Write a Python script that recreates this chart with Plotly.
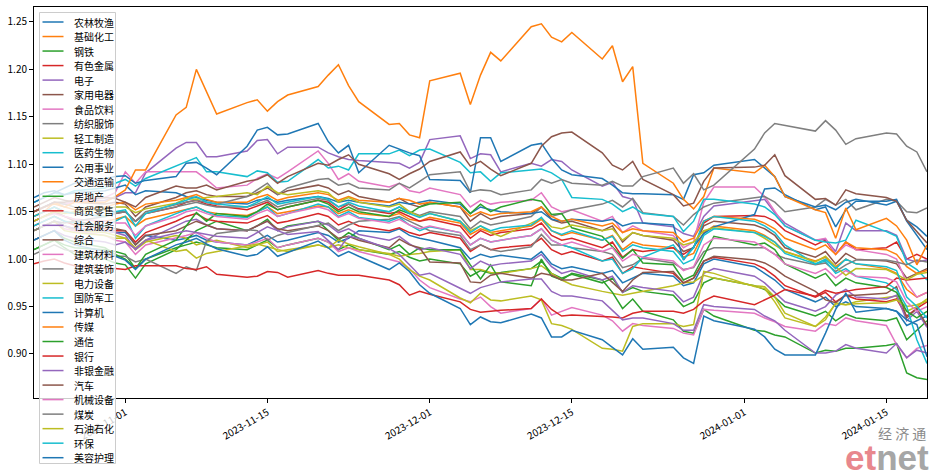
import plotly.graph_objects as go

dates = ["2023-10-23","2023-10-24","2023-10-25","2023-10-26","2023-10-27","2023-10-30","2023-10-31",
         "2023-11-01","2023-11-02","2023-11-03","2023-11-06","2023-11-07","2023-11-08","2023-11-09","2023-11-10",
         "2023-11-13","2023-11-14","2023-11-15","2023-11-16","2023-11-17",
         "2023-11-20","2023-11-21","2023-11-22","2023-11-23","2023-11-24",
         "2023-11-27","2023-11-28","2023-11-29","2023-11-30","2023-12-01",
         "2023-12-04","2023-12-05","2023-12-06","2023-12-07","2023-12-08",
         "2023-12-11","2023-12-12","2023-12-13","2023-12-14","2023-12-15",
         "2023-12-18","2023-12-19","2023-12-20","2023-12-21","2023-12-22",
         "2023-12-25","2023-12-26","2023-12-27","2023-12-28","2023-12-29",
         "2024-01-02","2024-01-03","2024-01-04","2024-01-05",
         "2024-01-08","2024-01-09","2024-01-10","2024-01-11","2024-01-12",
         "2024-01-15","2024-01-16","2024-01-17","2024-01-18","2024-01-19"]

names = ["农林牧渔","基础化工","钢铁","有色金属","电子","家用电器","食品饮料","纺织服饰","轻工制造","医药生物",
         "公用事业","交通运输","房地产","商贸零售","社会服务","综合","建筑材料","建筑装饰","电力设备","国防军工",
         "计算机","传媒","通信","银行","非银金融","汽车","机械设备","煤炭","石油石化","环保","美容护理"]

nonglin = [1.030,1.035,1.040,1.035,1.032,1.030,1.028, 1.028,1.015,1.025,1.020,1.022,1.025,1.020,1.018,
           1.015,1.020,1.025,1.018,1.020, 1.028,1.025,1.018,1.022,1.030, 1.028,1.032,1.025,1.022,1.020,
           1.012,1.000,1.005,1.002,1.004, 1.000,1.008,0.995,0.990,0.992, 0.985,0.988,0.975,0.980,0.985,
           0.982,0.972,0.975,0.995,1.000, 0.992,0.985,0.978,0.968, 0.955,0.960,0.950,0.955,0.950,
           0.948,0.945,0.930,0.935,0.940]
jichuhuagong = [1.040,1.045,1.050,1.045,1.042,1.040,1.042, 1.045,1.035,1.042,1.050,1.052,1.055,1.050,1.048,
                1.046,1.050,1.055,1.048,1.050, 1.056,1.055,1.048,1.052,1.048, 1.045,1.048,1.042,1.040,1.044,
                1.038,1.026,1.032,1.028,1.030, 1.035,1.042,1.030,1.025,1.028, 1.020,1.025,1.010,1.018,1.015,
                1.012,1.002,1.006,1.028,1.035, 1.030,1.025,1.018,1.008, 0.998,1.002,0.992,1.000,0.995,
                0.990,0.985,0.968,0.960,0.965]
gangtie = [1.010,1.015,1.020,1.015,1.012,1.010,1.008, 1.005,0.990,1.000,1.012,1.015,1.018,1.015,1.012,
           1.010,1.015,1.020,1.012,1.015, 1.022,1.018,1.010,1.015,1.010, 1.005,1.008,1.002,0.998,1.000,
           0.995,0.982,0.988,0.985,0.986, 0.990,0.998,0.985,0.980,0.984, 0.975,0.980,0.965,0.970,0.966,
           0.962,0.950,0.955,0.975,0.980, 0.972,0.968,0.960,0.950, 0.940,0.945,0.935,0.942,0.938,
           0.935,0.938,0.915,0.925,0.935]
yousejinshu = [1.045,1.050,1.055,1.050,1.048,1.045,1.048, 1.050,1.040,1.048,1.055,1.060,1.062,1.058,1.056,
               1.052,1.056,1.060,1.052,1.055, 1.062,1.060,1.052,1.058,1.053, 1.048,1.050,1.045,1.040,1.042,
               1.035,1.022,1.030,1.025,1.028, 1.032,1.038,1.025,1.020,1.022, 1.012,1.018,1.002,1.010,1.008,
               1.012,1.005,1.012,1.038,1.045, 1.046,1.045,1.040,1.030, 1.015,1.020,1.005,1.018,1.010,
               1.012,1.018,1.000,1.005,1.000]
dianzi = [1.050,1.055,1.060,1.058,1.060,1.062,1.065, 1.070,1.070,1.091,1.117,1.123,1.123,1.108,1.108,
          1.114,1.125,1.126,1.111,1.118, 1.118,1.112,1.108,1.105,1.104, 1.102,1.101,1.096,1.102,1.126,
          1.130,1.106,1.111,1.110,1.092, 1.101,1.098,1.105,1.103,1.094, 1.077,1.081,1.066,1.063,1.038,
          1.034,1.027,1.024,1.045,1.056, 1.061,1.063,1.049,1.038, 1.020,1.021,1.008,1.038,1.030,
          1.030,1.025,1.000,0.997,0.999]
jiayongdianqi = [1.055,1.060,1.065,1.062,1.060,1.058,1.060, 1.058,1.045,1.055,1.065,1.070,1.072,1.068,1.066,
                 1.066,1.070,1.075,1.068,1.072, 1.078,1.075,1.068,1.072,1.066, 1.060,1.064,1.058,1.055,1.060,
                 1.055,1.040,1.048,1.042,1.045, 1.048,1.055,1.042,1.038,1.040, 1.030,1.035,1.018,1.028,1.025,
                 1.020,1.008,1.012,1.035,1.040, 1.036,1.032,1.025,1.012, 1.002,1.008,0.995,1.006,1.000,
                 0.998,0.995,0.980,0.985,0.990]
shipinyinliao = [1.050,1.055,1.060,1.058,1.060,1.065,1.070, 1.092,1.080,1.092,1.092,1.092,1.092,1.084,1.075,
                 1.078,1.085,1.090,1.085,1.092, 1.114,1.101,1.084,1.090,1.082, 1.076,1.080,1.072,1.070,1.075,
                 1.068,1.055,1.062,1.058,1.060, 1.062,1.070,1.055,1.050,1.052, 1.040,1.045,1.028,1.035,1.030,
                 1.025,1.012,1.018,1.060,1.076, 1.076,1.066,1.050,1.035, 1.020,1.022,1.005,1.015,1.010,
                 1.005,1.000,0.975,0.960,0.965]
fangzhifushi = [1.050,1.055,1.060,1.058,1.055,1.052,1.050, 1.050,1.040,1.048,1.055,1.058,1.060,1.057,1.055,
                1.055,1.058,1.062,1.055,1.058, 1.064,1.062,1.055,1.058,1.052, 1.050,1.055,1.050,1.046,1.050,
                1.045,1.032,1.040,1.036,1.038, 1.045,1.055,1.045,1.048,1.052, 1.058,1.062,1.055,1.064,1.049,
                1.045,1.036,1.047,1.055,1.059, 1.064,1.066,1.060,1.050, 1.055,1.063,1.057,1.063,1.052,
                1.063,1.061,1.050,1.049,1.054]
qinggongzhizao = [1.030,1.035,1.040,1.035,1.030,1.028,1.025, 1.022,1.010,1.018,1.025,1.022,1.015,1.018,1.020,
                  1.012,1.015,1.018,1.008,1.010, 1.015,1.012,1.015,1.012,1.010, 1.006,1.003,1.005,1.006,1.008,
                  1.010,0.989,0.989,0.986,0.985, 0.990,0.993,0.985,0.978,0.973, 0.966,0.964,0.962,0.964,0.966,
                  0.972,0.975,0.976,0.983,0.980, 0.972,0.971,0.960,0.943, 0.929,0.936,0.954,0.952,0.955,
                  0.959,0.961,0.945,0.950,0.958]
yiyaoshengwu = [1.060,1.065,1.070,1.068,1.072,1.075,1.080, 1.084,1.077,1.085,1.098,1.102,1.107,1.092,1.092,
                1.087,1.093,1.091,1.081,1.082, 1.105,1.096,1.098,1.094,1.111, 1.111,1.115,1.109,1.115,1.116,
                1.102,1.091,1.092,1.082,1.091, 1.094,1.095,1.091,1.084,1.065, 1.063,1.058,1.050,1.055,1.048,
                1.045,1.029,1.040,1.063,1.063, 1.058,1.055,1.047,1.035, 1.020,1.018,1.017,1.020,1.041,
                1.029,1.024,0.996,0.989,0.978]
gongyongshiye = [1.065,1.070,1.072,1.068,1.070,1.072,1.075, 1.078,1.068,1.072,1.070,1.066,1.065,1.062,1.060,
                 1.058,1.062,1.064,1.060,1.062, 1.066,1.064,1.060,1.062,1.060, 1.056,1.060,1.058,1.060,1.062,
                 1.058,1.048,1.055,1.052,1.050, 1.048,1.050,1.042,1.040,1.042, 1.040,1.042,1.035,1.038,1.038,
                 1.036,0.999,1.013,1.027,1.034, 1.047,1.074,1.075,1.068, 1.052,1.055,1.034,1.052,1.061,
                 1.061,1.063,1.040,1.025,1.010]
jiaotongyunshu = [1.050,1.055,1.058,1.055,1.052,1.055,1.058, 1.060,1.052,1.058,1.062,1.065,1.068,1.063,1.060,
                  1.060,1.065,1.068,1.062,1.065, 1.070,1.068,1.062,1.066,1.062, 1.060,1.064,1.062,1.058,1.060,
                  1.055,1.045,1.050,1.046,1.048, 1.050,1.055,1.045,1.040,1.042, 1.035,1.038,1.028,1.032,1.030,
                  1.028,1.018,1.022,1.040,1.045, 1.042,1.038,1.032,1.022, 1.010,1.015,1.005,1.018,1.012,
                  1.010,1.005,0.992,0.985,0.988]
fangdichan = [1.010,1.015,1.020,1.012,1.005,1.000,0.996, 0.994,0.980,0.995,1.010,1.020,1.030,1.035,1.040,
              1.030,1.035,1.042,1.030,1.035, 1.040,1.030,1.020,1.028,1.022, 1.010,1.015,1.005,1.012,1.010,
              1.010,0.994,0.979,0.994,0.976, 0.972,1.000,0.982,0.978,0.985, 0.978,0.965,0.948,0.958,0.945,
              0.936,0.924,0.922,0.947,0.940, 0.925,0.924,0.920,0.918, 0.901,0.904,0.903,0.906,0.906,
              0.909,0.911,0.880,0.875,0.873]
shangmaolingshou = [1.035,1.040,1.045,1.040,1.036,1.032,1.030, 1.030,1.018,1.028,1.040,1.045,1.048,1.042,1.040,
                    1.038,1.042,1.046,1.038,1.040, 1.048,1.045,1.036,1.040,1.035, 1.030,1.033,1.028,1.025,1.028,
                    1.022,1.008,1.015,1.010,1.012, 1.015,1.022,1.010,1.005,1.008, 0.998,1.002,0.985,0.992,0.990,
                    0.985,0.975,0.980,0.998,1.002, 0.995,0.990,0.982,0.972, 0.960,0.965,0.955,0.962,0.958,
                    0.955,0.958,0.940,0.948,0.955]
shehuifuwu = [1.030,1.035,1.040,1.035,1.032,1.030,1.028, 1.025,1.010,1.020,1.035,1.040,1.042,1.036,1.032,
              1.030,1.035,1.040,1.030,1.034, 1.040,1.036,1.028,1.032,1.026, 1.020,1.024,1.016,1.010,1.012,
              1.005,0.990,0.998,0.993,0.995, 0.998,1.005,0.992,0.985,0.988, 0.978,0.982,0.965,0.972,0.970,
              0.966,0.955,0.960,0.985,0.990, 0.982,0.975,0.965,0.955, 0.945,0.950,0.962,0.968,0.960,
              0.958,0.962,0.935,0.945,0.928]
zonghe = [1.040,1.045,1.050,1.045,1.040,1.035,1.032, 1.030,1.015,1.025,1.030,1.035,1.040,1.036,1.032,
          1.030,1.035,1.040,1.032,1.030, 1.035,1.030,1.022,1.024,1.020, 1.012,1.021,1.015,1.012,0.997,
          0.996,0.976,0.975,0.983,0.985, 0.980,0.985,0.983,0.978,0.978, 0.985,0.975,0.966,0.978,0.986,
          0.987,0.975,0.980,0.998,1.003, 0.999,0.996,0.990,0.982, 0.966,0.957,0.954,0.962,0.962,
          0.964,0.971,0.938,0.948,0.930]
jianzhucailiao = [1.030,1.035,1.040,1.032,1.030,1.025,1.020, 1.018,1.005,1.015,1.022,1.025,1.028,1.022,1.018,
                  1.015,1.018,1.022,1.012,1.015, 1.022,1.018,1.008,1.012,1.008, 1.000,0.997,0.990,0.978,0.970,
                  0.958,0.955,0.960,0.950,0.943, 0.948,0.958,0.941,0.945,0.949, 0.941,0.935,0.924,0.932,0.930,
                  0.927,0.922,0.920,0.947,0.946, 0.943,0.938,0.934,0.929, 0.924,0.932,0.930,0.938,0.935,
                  0.930,0.910,0.896,0.906,0.909]
jianzhuzhuangshi = [1.005,1.010,1.015,1.010,1.008,1.005,1.003, 1.003,0.997,1.000,0.985,0.992,0.988,1.019,1.027,
                    1.031,1.030,1.020,1.025,1.028, 1.035,1.038,1.030,1.036,1.040, 1.042,1.045,1.040,1.035,1.030,
                    1.025,1.010,1.015,1.010,1.008, 1.013,1.026,1.015,1.015,1.012, 1.008,1.005,0.991,0.994,1.001,
                    0.996,0.989,0.991,1.008,1.012, 1.012,1.012,1.005,1.001, 0.994,0.996,0.987,0.994,0.999,
                    0.999,0.997,0.994,0.999,0.997]
dianlishebei = [1.030,1.035,1.040,1.030,1.028,1.025,1.022, 1.022,1.012,1.020,1.008,1.010,1.001,1.006,1.008,
                1.014,1.016,1.013,1.010,1.008, 1.015,1.012,1.020,1.016,1.013, 1.005,1.000,0.989,0.982,0.978,
                0.959,0.954,0.964,0.957,0.956, 0.961,0.957,0.932,0.930,0.926, 0.906,0.905,0.903,0.929,0.932,
                0.932,0.929,0.931,0.987,0.985, 0.971,0.969,0.955,0.938, 0.929,0.939,0.953,0.952,0.953,
                0.954,0.957,0.950,0.952,0.956]
guofangjungong = [1.035,1.040,1.045,1.040,1.038,1.035,1.040, 1.045,1.022,1.035,1.048,1.052,1.055,1.050,1.046,
                  1.044,1.050,1.055,1.045,1.048, 1.058,1.055,1.045,1.050,1.044, 1.040,1.044,1.036,1.030,1.034,
                  1.028,1.015,1.022,1.018,1.020, 1.025,1.032,1.020,1.015,1.012, 0.998,1.000,0.985,0.990,1.002,
                  1.015,1.000,1.012,1.040,1.045, 1.040,1.035,1.028,1.015, 0.995,0.998,0.985,0.990,0.982,
                  0.975,0.968,0.950,0.915,0.890]
jisuanji = [1.060,1.065,1.070,1.075,1.080,1.085,1.087, 1.088,1.080,1.083,1.087,1.101,1.102,1.096,1.089,
            1.119,1.136,1.139,1.131,1.132, 1.143,1.124,1.112,1.120,1.091, 1.120,1.116,1.112,1.109,1.084,
            1.083,1.070,1.128,1.128,1.103, 1.120,1.122,1.106,1.094,1.089, 1.085,1.078,1.070,1.069,1.069,
            1.068,1.063,1.089,1.091,1.099, 1.105,1.096,1.087,1.066, 1.055,1.057,1.052,1.060,1.063,
            1.057,1.061,1.041,1.034,1.024]
chuanmei = [1.045,1.050,1.060,1.055,1.060,1.060,1.066, 1.073,1.094,1.094,1.152,1.160,1.200,1.176,1.153,
            1.165,1.168,1.156,1.166,1.173, 1.182,1.194,1.205,1.183,1.166, 1.142,1.143,1.131,1.128,1.188,
            1.196,1.163,1.194,1.218,1.209, 1.245,1.248,1.234,1.229,1.239, 1.211,1.225,1.187,1.203,1.101,
            1.080,1.063,1.053,1.066,1.096, 1.091,1.099,1.087,1.066, 1.052,1.049,1.022,1.054,1.031,
            1.043,1.035,1.020,0.994,1.015]
tongxin = [1.020,1.025,1.030,1.022,1.018,1.012,1.005, 1.000,0.990,1.005,1.020,1.035,1.049,1.040,1.048,
           1.045,1.050,1.058,1.052,1.055, 1.062,1.058,1.050,1.055,1.050, 1.045,1.052,1.048,1.055,1.058,
           1.060,1.048,1.058,1.050,1.055, 1.063,1.061,1.047,1.048,1.033, 1.024,1.013,1.001,1.010,0.996,
           0.994,0.978,0.983,1.003,1.024, 1.015,1.017,1.010,0.995, 0.980,0.985,0.972,0.980,0.975,
           0.970,0.965,0.945,0.938,0.945]
yinhang = [0.995,0.998,1.000,0.996,0.993,0.990,0.990, 0.989,0.993,0.993,0.993,0.990,0.989,0.992,0.984,
           0.981,0.982,0.987,0.986,0.981, 0.988,0.985,0.983,0.983,0.983, 0.978,0.973,0.962,0.966,0.963,
           0.955,0.947,0.944,0.945,0.946, 0.948,0.958,0.947,0.940,0.941, 0.940,0.939,0.938,0.943,0.945,
           0.945,0.943,0.947,0.956,0.961, 0.952,0.957,0.962,0.968, 0.961,0.967,0.964,0.966,0.968,
           0.971,0.980,0.978,0.979,0.980]
feiyinjinrong = [1.020,1.025,1.030,1.025,1.022,1.018,1.015, 1.018,1.011,1.020,1.027,1.030,1.028,1.026,1.024,
                 1.022,1.028,1.034,1.030,1.026, 1.029,1.020,1.010,1.024,1.022, 1.011,1.005,0.994,0.983,0.985,
                 0.969,0.964,0.970,0.973,0.976, 0.979,0.979,0.966,0.961,0.961, 0.956,0.946,0.936,0.938,0.938,
                 0.932,0.925,0.925,0.952,0.950, 0.947,0.940,0.935,0.925, 0.901,0.901,0.903,0.910,0.906,
                 0.901,0.911,0.896,0.904,0.901]
qiche = [1.050,1.055,1.060,1.060,1.062,1.065,1.064, 1.060,1.055,1.065,1.077,1.075,1.075,1.078,1.073,
         1.082,1.084,1.089,1.080,1.087, 1.101,1.099,1.105,1.110,1.100, 1.090,1.084,1.090,1.095,1.103,
         1.113,1.098,1.103,1.095,1.088, 1.101,1.119,1.129,1.133,1.134, 1.112,1.099,1.094,1.103,1.084,
         1.068,1.056,1.059,1.082,1.096, 1.097,1.099,1.110,1.088, 1.063,1.064,1.057,1.073,1.069,
         1.065,1.061,1.041,1.029,1.017]
jixieshebei = [1.040,1.045,1.048,1.045,1.042,1.040,1.038, 1.038,1.025,1.035,1.045,1.050,1.052,1.048,1.045,
               1.042,1.048,1.052,1.045,1.048, 1.055,1.052,1.044,1.048,1.043, 1.038,1.042,1.036,1.032,1.035,
               1.028,1.015,1.022,1.018,1.020, 1.025,1.032,1.020,1.015,1.018, 1.008,1.012,0.998,1.005,1.002,
               0.998,0.988,0.992,1.015,1.022, 1.018,1.012,1.005,0.995, 0.985,0.990,0.980,0.988,0.982,
               0.980,0.976,0.955,0.945,0.950]
meitan = [1.030,1.035,1.040,1.038,1.040,1.045,1.048, 1.050,1.040,1.050,1.058,1.060,1.062,1.060,1.058,
          1.066,1.073,1.080,1.068,1.075, 1.084,1.085,1.078,1.080,1.075, 1.073,1.080,1.075,1.082,1.089,
          1.092,1.071,1.073,1.072,1.068, 1.073,1.084,1.080,1.084,1.080, 1.078,1.082,1.077,1.077,1.087,
          1.096,1.080,1.090,1.073,1.078, 1.116,1.133,1.143,1.141, 1.135,1.146,1.136,1.121,1.127,
          1.133,1.132,1.119,1.113,1.092]
shiyoushihua = [1.040,1.045,1.050,1.048,1.050,1.052,1.055, 1.055,1.049,1.053,1.059,1.064,1.063,1.065,1.066,
                1.070,1.068,1.077,1.070,1.068, 1.072,1.070,1.060,1.065,1.060, 1.055,1.058,1.050,1.045,1.048,
                1.040,1.030,1.035,1.028,1.024, 1.038,1.043,1.034,1.032,1.036, 1.030,1.032,1.020,1.028,1.025,
                1.022,1.015,1.018,1.030,1.033, 1.028,1.022,1.015,1.008, 0.997,1.003,0.992,0.983,0.990,
                0.989,0.984,0.978,0.984,0.986]
huanbao = [1.045,1.050,1.055,1.050,1.048,1.045,1.050, 1.052,1.035,1.048,1.058,1.062,1.066,1.060,1.058,
           1.055,1.060,1.066,1.058,1.060, 1.066,1.063,1.055,1.060,1.056, 1.050,1.055,1.048,1.044,1.048,
           1.040,1.028,1.035,1.030,1.033, 1.036,1.044,1.030,1.026,1.030, 1.020,1.024,1.008,1.015,1.012,
           1.008,0.995,1.000,1.025,1.032, 1.028,1.024,1.018,1.006, 0.995,1.000,0.990,1.000,0.995,
           0.992,0.988,0.960,0.950,0.938]
meironghuli = [1.020,1.025,1.030,1.020,1.015,1.008,1.003, 0.999,0.989,1.000,1.015,1.018,1.022,1.016,1.011,
               1.003,1.005,1.013,1.003,1.007, 1.019,1.012,1.003,1.008,1.003, 0.989,0.996,0.987,0.973,0.964,
               0.948,0.931,0.939,0.934,0.933, 0.942,0.938,0.918,0.918,0.925, 0.915,0.907,0.899,0.916,0.905,
               0.907,0.896,0.890,0.940,0.935, 0.926,0.918,0.905,0.899, 0.899,0.922,0.947,0.964,0.944,
               0.948,0.945,0.936,0.931,0.897]

series = [nonglin, jichuhuagong, gangtie, yousejinshu, dianzi, jiayongdianqi, shipinyinliao, fangzhifushi,
          qinggongzhizao, yiyaoshengwu, gongyongshiye, jiaotongyunshu, fangdichan, shangmaolingshou, shehuifuwu,
          zonghe, jianzhucailiao, jianzhuzhuangshi, dianlishebei, guofangjungong, jisuanji, chuanmei, tongxin,
          yinhang, feiyinjinrong, qiche, jixieshebei, meitan, shiyoushihua, huanbao, meironghuli]

ytick_vals = [0.90, 0.95, 1.00, 1.05, 1.10, 1.15, 1.20, 1.25]
xtick_vals = ["2023-11-01", "2023-11-15", "2023-12-01", "2023-12-15", "2024-01-01", "2024-01-15"]

for s, n in zip(series, names):
    assert len(s) == len(dates), (n, len(s))

palette = ["#1f77b4", "#ff7f0e", "#2ca02c", "#d62728", "#9467bd",
           "#8c564b", "#e377c2", "#7f7f7f", "#bcbd22", "#17becf"]

W, H = 934, 471
L, R, T, B = 34, 7, 7, 73
plot_w = W - L - R
plot_h = H - T - B
FONT = "Noto Sans CJK SC, DejaVu Sans, sans-serif"

fig = go.Figure()
for i, (n, s) in enumerate(zip(names, series)):
    fig.add_trace(go.Scatter(x=dates, y=s, mode="lines", name=n,
                             line=dict(color=palette[i % 10], width=1.5),
                             showlegend=False))

def px_x(px):
    return (px - L) / plot_w

def px_y(py):
    return (H - B - py) / plot_h

shapes = []
annotations = []
# legend frame
shapes.append(dict(type="rect", xref="paper", yref="paper",
                   x0=px_x(39.5), x1=px_x(115.5), y0=px_y(463.5), y1=px_y(12.5),
                   fillcolor="rgba(255,255,255,0.8)", line=dict(color="#cccccc", width=1),
                   layer="above"))
step = (457.7 - 22.0) / (len(names) - 1)
for i, n in enumerate(names):
    yc = 22.0 + step * i
    shapes.append(dict(type="line", xref="paper", yref="paper",
                       x0=px_x(42.5), x1=px_x(63.5), y0=px_y(yc), y1=px_y(yc),
                       line=dict(color=palette[i % 10], width=1.5), layer="above"))
    annotations.append(dict(xref="paper", yref="paper", x=px_x(71.5), y=px_y(yc),
                            xanchor="left", yanchor="middle", showarrow=False,
                            text=n, font=dict(family=FONT, size=10, color="#000000")))

# watermark
annotations.append(dict(xref="paper", yref="paper", x=px_x(928), y=px_y(433),
                        xanchor="right", yanchor="middle", showarrow=False,
                        text="经 济 通", font=dict(family=FONT, size=14, color="#8a8a8a")))
annotations.append(dict(xref="paper", yref="paper", x=px_x(931), y=px_y(457),
                        xanchor="right", yanchor="middle", showarrow=False,
                        text="<b><span style='color:#e8878d'>et</span><span style='color:#a6a6a6'>net</span></b>",
                        font=dict(family="Liberation Sans, Arial, sans-serif", size=35, color="#a6a6a6")))

fig.update_layout(
    width=W, height=H,
    margin=dict(l=L, r=R, t=T, b=B),
    paper_bgcolor="white", plot_bgcolor="white",
    showlegend=False,
    shapes=shapes, annotations=annotations,
    font=dict(family=FONT, size=10, color="#000000"),
)
fig.update_xaxes(range=["2023-10-23", "2024-01-19"], tickvals=xtick_vals, ticktext=xtick_vals,
                 tickangle=-30, ticks="outside", ticklen=4, tickcolor="#000000",
                 showline=True, linecolor="#000000", linewidth=1, mirror=True,
                 showgrid=False, zeroline=False, tickfont=dict(family=FONT, size=10))
fig.update_yaxes(range=[0.8536, 1.2658], tickvals=ytick_vals, tickformat=".2f",
                 ticks="outside", ticklen=4, tickcolor="#000000",
                 showline=True, linecolor="#000000", linewidth=1, mirror=True,
                 showgrid=False, zeroline=False, tickfont=dict(family=FONT, size=10))

fig.write_html("out.html", config={"displayModeBar": False},
               post_script="document.body.style.margin='0';document.body.style.overflow='hidden';")
